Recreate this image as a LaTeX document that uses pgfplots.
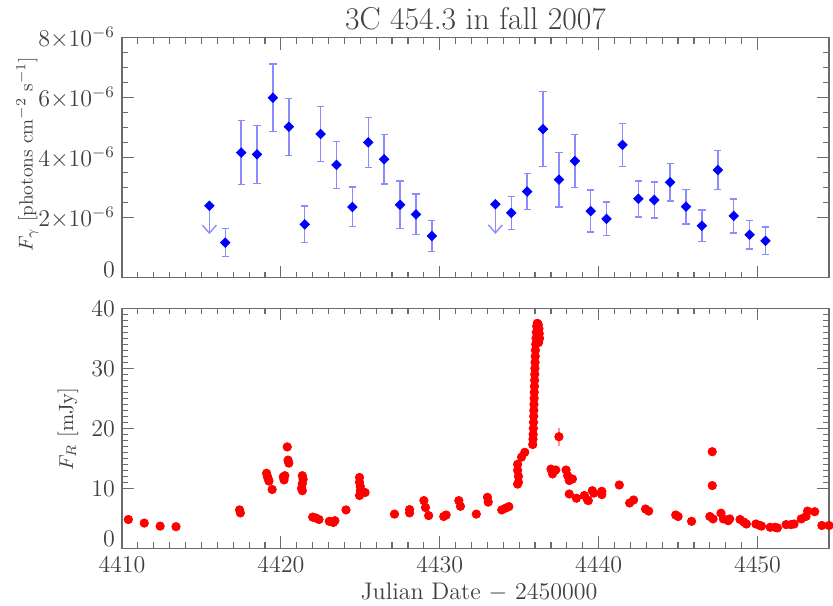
\documentclass[border=0pt]{standalone}
\usepackage{fontspec}
\usepackage{pgfplots}
\usepackage{pgfplotstable}
\pgfplotsset{compat=1.18}
\usetikzlibrary{arrows.meta}
\definecolor{axgray}{gray}{0.42}
\definecolor{txtgray}{gray}{0.25}
\definecolor{errblue}{RGB}{140,140,255}
\definecolor{errred}{RGB}{255,150,150}

\pgfplotstableread{
x y e
4416.5 1.17e-6 0.46e-6
4417.5 4.17e-6 1.07e-6
4418.5 4.11e-6 0.96e-6
4419.5 6.00e-6 1.12e-6
4420.5 5.03e-6 0.95e-6
4421.5 1.78e-6 0.61e-6
4422.5 4.79e-6 0.91e-6
4423.5 3.76e-6 0.79e-6
4424.5 2.36e-6 0.66e-6
4425.5 4.51e-6 0.83e-6
4426.5 3.95e-6 0.82e-6
4427.5 2.43e-6 0.79e-6
4428.5 2.11e-6 0.68e-6
4429.5 1.39e-6 0.52e-6
4434.5 2.16e-6 0.55e-6
4435.5 2.87e-6 0.60e-6
4436.5 4.95e-6 1.25e-6
4437.5 3.27e-6 0.91e-6
4438.5 3.89e-6 0.89e-6
4439.5 2.22e-6 0.70e-6
4440.5 1.96e-6 0.56e-6
4441.5 4.43e-6 0.72e-6
4442.5 2.63e-6 0.60e-6
4443.5 2.59e-6 0.60e-6
4444.5 3.18e-6 0.62e-6
4445.5 2.37e-6 0.58e-6
4446.5 1.73e-6 0.52e-6
4447.5 3.59e-6 0.65e-6
4448.5 2.06e-6 0.57e-6
4449.5 1.43e-6 0.48e-6
4450.5 1.23e-6 0.46e-6
}\gammadata

\pgfplotstableread{
x y v
4415.5 2.40e-6 -0.95e-6
4433.5 2.45e-6 -0.99e-6
}\gammaul

\pgfplotstableread{
x y
4410.4 4.8
4411.4 4.2
4412.4 3.7
4413.4 3.6
4417.4 6.4
4417.45 5.9
4419.1 12.5
4419.15 12.0
4419.2 11.6
4419.25 11.2
4419.45 9.8
4420.15 11.9
4420.2 11.4
4420.25 12.1
4420.4 16.9
4420.45 14.7
4420.5 14.2
4421.35 12.1
4421.4 11.5
4421.35 10.8
4421.3 10.0
4421.35 9.6
4422.0 5.2
4422.2 5.05
4422.4 4.8
4423.05 4.5
4423.3 4.3
4423.4 4.6
4424.1 6.4
4424.95 11.8
4424.95 11.0
4425.0 10.3
4425.0 9.6
4424.95 8.8
4425.3 9.3
4427.15 5.7
4428.1 6.45
4428.1 5.9
4429.0 7.95
4429.1 6.8
4429.3 5.45
4430.25 5.3
4430.4 5.55
4431.2 7.95
4431.3 7.0
4432.3 5.7
4433.0 8.5
4433.05 7.7
4433.9 6.4
4434.15 6.7
4434.35 6.95
4434.9 14.0
4434.9 13.0
4434.95 12.0
4434.95 11.0
4434.9 10.7
4435.15 15.2
4435.35 16.0
4435.85 17.3
4435.87 18.2
4435.88 19.0
4435.89 20.0
4435.90 21.0
4435.91 22.0
4435.92 23.0
4435.93 24.0
4435.94 25.0
4435.95 26.0
4435.96 27.0
4435.97 28.0
4435.98 29.0
4435.99 30.0
4436.00 31.0
4436.01 32.0
4436.02 33.0
4436.04 34.0
4436.06 35.0
4436.08 36.0
4436.10 37.0
4436.14 37.5
4436.20 37.3
4436.24 36.6
4436.26 35.8
4436.28 35.0
4436.22 34.3
4436.18 35.5
4437.0 13.2
4437.1 12.4
4437.3 13.05
4437.95 13.05
4438.05 12.1
4438.15 11.3
4438.35 11.55
4438.15 9.05
4438.6 8.35
4439.1 8.8
4439.3 8.05
4439.35 7.95
4439.6 9.6
4439.7 9.2
4440.2 9.5
4440.2 8.95
4441.3 10.55
4441.95 7.55
4442.2 8.05
4442.95 6.55
4443.15 6.2
4444.85 5.55
4445.0 5.3
4445.85 4.5
4447.15 16.1
4447.15 10.45
4447.0 5.3
4447.2 4.9
4447.7 5.85
4447.85 4.9
4448.15 4.6
4448.25 4.9
4448.9 4.8
4449.15 4.35
4449.3 4.05
4449.9 4.05
4450.15 3.8
4450.25 3.7
4450.8 3.5
4451.1 3.5
4451.25 3.4
4451.8 3.95
4452.1 3.95
4452.3 4.05
4452.75 4.9
4453.05 5.3
4453.15 6.2
4453.6 6.1
4454.05 3.8
4454.5 3.8
}\radiodata

\pgfplotsset{
 base/.style={scale only axis, width=353.5pt, height=120pt,
   xmin=4410, xmax=4454.5,
   xtick={4410,4420,4430,4440,4450}, minor x tick num=9,
   major tick length=6pt, minor tick length=3pt,
   tick align=inside,
   axis line style={axgray, line width=0.7pt},
   every tick/.style={axgray, line width=0.6pt},
   tick label style={font=\fontsize{12}{14}\selectfont, text=txtgray},
   xticklabel style={yshift=-1pt},
   label style={text=txtgray},
   /pgf/number format/set thousands separator={},
   scaled ticks=false,
   clip=false,
 }
}

\begin{document}
\begin{tikzpicture}
\path[use as bounding box] (0,0) rectangle (416.5pt,302.5pt);

% top panel
\begin{axis}[base, at={(61pt,163.65pt)}, anchor=south west,
  ymin=0, ymax=8e-6,
  ytick={2e-6,4e-6,6e-6,8e-6},
  yticklabels={$2{\times}10^{-6}$,$4{\times}10^{-6}$,$6{\times}10^{-6}$,$8{\times}10^{-6}$},
  extra y ticks={0}, extra y tick labels={$0$},
  extra y tick style={yticklabel style={yshift=4pt}},
  minor y tick num=3,
  xticklabels={},
  title={3C 454.3 in fall 2007},
  every axis title/.style={at={(axis description cs:0.5,1)}, yshift=9.4pt, anchor=center, font=\fontsize{15.8}{18}\selectfont, text=txtgray},
  ylabel={$F_\gamma$ [photons cm$^{-2}$ s$^{-1}$]},
  every axis y label/.style={at={(axis description cs:-0.134,0.515)}, rotate=90, anchor=center, font=\fontsize{9.6}{11}\selectfont, text=txtgray},
]
\addplot[only marks, mark=square*, mark size=1.66pt, color=blue,
  mark options={rotate=45, draw=blue, fill=blue},
  error bars/.cd, y dir=both, y explicit,
  error bar style={errblue, line width=0.7pt},
  error mark=-,
  error mark options={errblue, rotate=90, mark size=1.8pt, line width=0.7pt}]
  table[x=x, y=y, y error=e] {\gammadata};
\addplot[errblue, line width=0.7pt, -{Straight Barb[length=4pt,width=7pt]},
  quiver={u=0, v=\thisrow{v}}] table[x=x, y=y] {\gammaul};
\addplot[only marks, mark=square*, mark size=1.66pt, color=blue,
  mark options={rotate=45, draw=blue, fill=blue}] table[x=x, y=y] {\gammaul};
\end{axis}

% bottom panel
\begin{axis}[base, at={(61pt,28.35pt)}, anchor=south west,
  ymin=0, ymax=40,
  ytick={10,20,30,40},
  extra y ticks={0}, extra y tick labels={$0$},
  extra y tick style={yticklabel style={yshift=5pt}},
  minor y tick num=9,
  xlabel={Julian Date $-$ 2450000},
  every axis x label/.style={at={(axis description cs:0.505,0)}, yshift=-21.85pt, anchor=center, font=\fontsize{12}{14}\selectfont, text=txtgray},
  ylabel={$F_R$ [mJy]},
  every axis y label/.style={at={(axis description cs:-0.0764,0.497)}, rotate=90, anchor=center, font=\fontsize{10.3}{12}\selectfont, text=txtgray},
]
\addplot[only marks, mark=*, mark size=2.1pt, color=red,
  mark options={draw=none, fill=red},
  error bars/.cd, y dir=both, y explicit, error mark=none,
  error bar style={errred, line width=0.6pt}]
  coordinates {(4437.5,18.6) +- (0,1.5)};
\addplot[only marks, mark=*, mark size=2.1pt, color=red,
  mark options={draw=none, fill=red}] table[x=x, y=y] {\radiodata};
\end{axis}
\end{tikzpicture}
\end{document}
